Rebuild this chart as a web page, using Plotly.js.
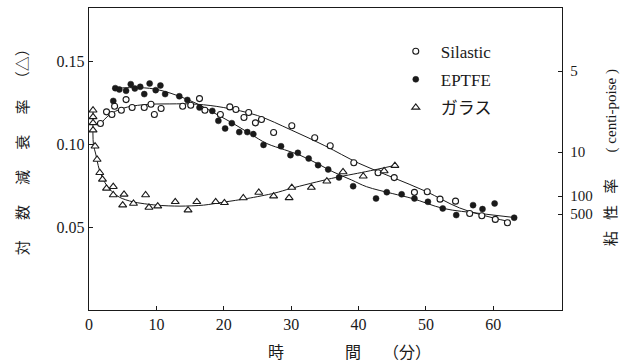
<!DOCTYPE html>
<html>
<head>
<meta charset="utf-8">
<script src="https://cdn.plot.ly/plotly-3.0.1.min.js"></script>
<style>html,body{margin:0;padding:0;background:#fff;}#chart{width:637px;height:362px;}</style>
</head>
<body>
<div id="chart"></div>
<script>
// ---- data ----
var silasticX = [1.7, 2.6, 3.4, 3.8, 4.8, 5.5, 6.4, 8.2, 9.2, 9.7, 10.7, 13.9, 15.1, 16.4, 17.2, 19.5, 20.9, 21.8, 23.0, 23.7, 24.7, 25.6, 27.4, 30.1, 33.5, 35.8, 39.3, 42.9, 45.3, 48.3, 50.2, 52.1, 54.4, 56.5, 58.3, 60.3, 62.1];
var silasticY = [0.1124, 0.1194, 0.1178, 0.1228, 0.1204, 0.1268, 0.1220, 0.1220, 0.1240, 0.1178, 0.1214, 0.1228, 0.1234, 0.1274, 0.1204, 0.1178, 0.1224, 0.1208, 0.1160, 0.1190, 0.1128, 0.1148, 0.1070, 0.1110, 0.1038, 0.0990, 0.0887, 0.0827, 0.0798, 0.0709, 0.0713, 0.0668, 0.0656, 0.0582, 0.0568, 0.0546, 0.0526];

var eptfeX = [3.6, 3.9, 4.5, 5.5, 6.2, 6.8, 7.6, 8.2, 9.0, 9.9, 10.6, 11.3, 13.4, 14.6, 16.4, 18.3, 19.2, 20.2, 21.2, 22.3, 23.5, 24.4, 25.9, 28.5, 29.9, 31.0, 32.6, 34.0, 35.5, 37.1, 39.2, 42.6, 44.2, 46.4, 48.3, 50.3, 52.5, 54.5, 57.0, 58.4, 60.2, 63.1];
var eptfeY = [0.1260, 0.1337, 0.1329, 0.1321, 0.1361, 0.1335, 0.1345, 0.1301, 0.1365, 0.1325, 0.1353, 0.1301, 0.1288, 0.1266, 0.1220, 0.1200, 0.1140, 0.1094, 0.1126, 0.1072, 0.1072, 0.1060, 0.0995, 0.0987, 0.0933, 0.0947, 0.0913, 0.0873, 0.0847, 0.0799, 0.0746, 0.0672, 0.0710, 0.0697, 0.0672, 0.0652, 0.0612, 0.0572, 0.0632, 0.0608, 0.0642, 0.0556];

var glassX = [0.6, 0.6, 0.6, 0.6, 0.9, 1.2, 1.6, 2.0, 2.6, 3.6, 3.6, 5.2, 5.0, 6.6, 8.4, 8.9, 10.2, 12.8, 14.7, 16.0, 18.8, 20.1, 22.9, 25.2, 27.4, 29.7, 30.1, 33.0, 35.3, 37.7, 40.7, 43.8, 45.4];
var glassY = [0.1204, 0.1164, 0.1128, 0.1084, 0.0987, 0.0907, 0.0827, 0.0787, 0.0733, 0.0743, 0.0693, 0.0697, 0.0632, 0.0642, 0.0693, 0.0618, 0.0626, 0.0652, 0.0602, 0.0652, 0.0652, 0.0646, 0.0675, 0.0708, 0.0686, 0.0676, 0.0738, 0.0738, 0.0776, 0.0832, 0.0806, 0.0838, 0.0870];

// fitted curves
var silasticFitX = [1.5, 3, 5, 8, 12, 16, 20, 25, 30, 35, 40, 45, 50, 55, 60, 62.5];
var silasticFitY = [0.111, 0.1175, 0.1215, 0.1237, 0.1242, 0.1240, 0.1220, 0.1172, 0.1085, 0.0990, 0.0885, 0.0800, 0.0715, 0.0615, 0.0555, 0.0532];

var eptfeFitX = [3.5, 6, 9, 11, 13.4, 16.5, 19, 21.4, 24, 26.4, 29, 31.3, 34, 36.2, 39, 41.2, 45, 48, 52.6, 58, 63];
var eptfeFitY = [0.1335, 0.1340, 0.1336, 0.1320, 0.1288, 0.1234, 0.1178, 0.1124, 0.1060, 0.1003, 0.0966, 0.0933, 0.0880, 0.0833, 0.0783, 0.0743, 0.0702, 0.0672, 0.0612, 0.0582, 0.0558];

var glassFitX = [0.6, 0.65, 1.0, 1.5, 2.2, 3.0, 4.5, 6.5, 10, 13.5, 17, 20, 23.5, 27.5, 30, 36, 41, 45.6];
var glassFitY = [0.120, 0.100, 0.094, 0.085, 0.078, 0.073, 0.068, 0.0652, 0.0632, 0.0626, 0.0632, 0.0650, 0.0672, 0.0704, 0.0733, 0.0793, 0.0833, 0.0873];

var seriesNames = ["Silastic", "EPTFE", "ガラス"];

var xTicks = [0, 10, 20, 30, 40, 50, 60];
var yTicks = [0.05, 0.10, 0.15];
var yTickText = ["0.05", "0.10", "0.15"];
var viscTickPos = [0.1440, 0.0952, 0.0687, 0.0578];
var viscTickText = ["5", "10", "100", "500"];

var xTitleParts = ["時", "間", "（分）"];
var S = "\u00a0";
var yTitle = ["対", "数", "減", "衰", "率"].join(S.repeat(6)) + S.repeat(4) + "（△）";
var y2Title = ["粘", "性", "率"].join(S.repeat(3)) + S.repeat(7) + "(" + S + "centi-poise" + S + ")";

// ---- traces ----
var lineStyle = {color: "#1a1a1a", width: 1};
var traces = [
  {x: silasticFitX, y: silasticFitY, mode: "lines", line: Object.assign({shape: "spline", smoothing: 1}, lineStyle), showlegend: false, hoverinfo: "skip"},
  {x: eptfeFitX, y: eptfeFitY, mode: "lines", line: Object.assign({shape: "spline", smoothing: 1}, lineStyle), showlegend: false, hoverinfo: "skip"},
  {x: glassFitX, y: glassFitY, mode: "lines", line: Object.assign({shape: "spline", smoothing: 0.8}, lineStyle), showlegend: false, hoverinfo: "skip"},
  {x: silasticX, y: silasticY, mode: "markers", name: seriesNames[0], legendgroup: "a",
   marker: {symbol: "circle", size: 6, color: "#ffffff", line: {color: "#1a1a1a", width: 1.1}}},
  {x: eptfeX, y: eptfeY, mode: "markers", name: seriesNames[1], legendgroup: "b",
   marker: {symbol: "circle", size: 6, color: "#1a1a1a", line: {color: "#1a1a1a", width: 0.5}}},
  {x: glassX, y: glassY, mode: "markers", name: seriesNames[2], legendgroup: "c",
   marker: {symbol: "triangle-up", size: 7, color: "#ffffff", line: {color: "#1a1a1a", width: 1.1}}},
  {x: [], y: [], yaxis: "y2", showlegend: false, mode: "markers"}
];

var serif = "Liberation Serif, Noto Sans CJK JP, serif";
var cjk = "Noto Sans CJK JP, sans-serif";

var layout = {
  width: 637, height: 362,
  margin: {l: 89, r: 75, t: 8, b: 52},
  paper_bgcolor: "#ffffff", plot_bgcolor: "#ffffff",
  font: {family: serif, color: "#1a1a1a", size: 16},
  showlegend: true,
  legend: {x: 0.638, y: 0.915, xanchor: "left", yanchor: "top", bgcolor: "rgba(0,0,0,0)",
           font: {family: serif, size: 17, color: "#1a1a1a"}, tracegroupgap: 3, itemwidth: 40},
  xaxis: {range: [0, 70.2], tickvals: xTicks, ticks: "inside", ticklen: 4, tickcolor: "#1a1a1a",
          showline: true, mirror: true, linecolor: "#1a1a1a", linewidth: 1.2, showgrid: false, zeroline: false,
          tickfont: {family: serif, size: 16}},
  yaxis: {range: [0, 0.182], tickvals: yTicks, ticktext: yTickText, ticks: "inside", ticklen: 4, tickcolor: "#1a1a1a",
          showline: true, mirror: true, linecolor: "#1a1a1a", linewidth: 1.2, showgrid: false, zeroline: false,
          tickfont: {family: serif, size: 16}},
  yaxis2: {range: [0, 0.182], overlaying: "y", side: "right", tickvals: viscTickPos, ticktext: viscTickText,
           ticks: "inside", ticklen: 4, tickcolor: "#1a1a1a", showline: true, linecolor: "#1a1a1a", linewidth: 1.2,
           showgrid: false, zeroline: false, tickfont: {family: serif, size: 15}, ticklabelstandoff: 4},
  annotations: [
    {text: xTitleParts[0], xref: "paper", yref: "paper", x: 0.395, y: -0.137, xanchor: "center", yanchor: "middle",
     showarrow: false, font: {family: cjk, size: 16, color: "#1a1a1a"}},
    {text: xTitleParts[1], xref: "paper", yref: "paper", x: 0.558, y: -0.137, xanchor: "center", yanchor: "middle",
     showarrow: false, font: {family: cjk, size: 16, color: "#1a1a1a"}},
    {text: xTitleParts[2], xref: "paper", yref: "paper", x: 0.672, y: -0.137, xanchor: "center", yanchor: "middle",
     showarrow: false, font: {family: cjk, size: 16, color: "#1a1a1a"}},
    {text: yTitle, xref: "paper", yref: "paper", x: -0.142, y: 0.535, xanchor: "center", yanchor: "middle",
     textangle: -90, showarrow: false, font: {family: cjk, size: 15, color: "#1a1a1a"}},
    {text: y2Title, xref: "paper", yref: "paper", x: 1.105, y: 0.505, xanchor: "center", yanchor: "middle",
     textangle: -90, showarrow: false, font: {family: serif, size: 15, color: "#1a1a1a"}}
  ]
};

Plotly.newPlot("chart", traces, layout, {staticPlot: true, displayModeBar: false});
</script>
</body>
</html>
